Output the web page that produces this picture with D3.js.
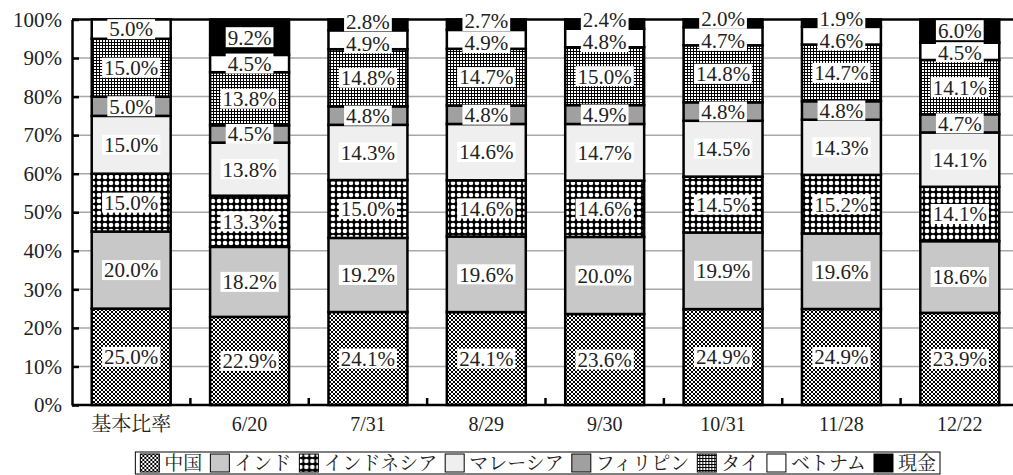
<!DOCTYPE html>
<html>
<head>
<meta charset="utf-8">
<script src="https://cdn.jsdelivr.net/npm/d3@7"></script>
<style>
  body { margin: 0; background: #fff; }
  svg { display: block; }
  text { font-family: "Liberation Serif", "Noto Serif CJK JP", "Noto Sans CJK JP", serif; fill: #222; }
</style>
</head>
<body>
<div id="chart"></div>
<script>
// categories and series
var categories = ["基本比率", "6/20", "7/31", "8/29", "9/30", "10/31", "11/28", "12/22"];
var seriesNames = ["中国", "インド", "インドネシア", "マレーシア", "フィリピン", "タイ", "ベトナム", "現金"];

var china       = [25.0, 22.9, 24.1, 24.1, 23.6, 24.9, 24.9, 23.9];
var india       = [20.0, 18.2, 19.2, 19.6, 20.0, 19.9, 19.6, 18.6];
var indonesia   = [15.0, 13.3, 15.0, 14.6, 14.6, 14.5, 15.2, 14.1];
var malaysia    = [15.0, 13.8, 14.3, 14.6, 14.7, 14.5, 14.3, 14.1];
var philippines = [5.0, 4.5, 4.8, 4.8, 4.9, 4.8, 4.8, 4.7];
var thailand    = [15.0, 13.8, 14.8, 14.7, 15.0, 14.8, 14.7, 14.1];
var vietnam     = [5.0, 4.5, 4.9, 4.9, 4.8, 4.7, 4.6, 4.5];
var cash        = [0, 9.2, 2.8, 2.7, 2.4, 2.0, 1.9, 6.0];

var yTicks = [0, 0.1, 0.2, 0.3, 0.4, 0.5, 0.6, 0.7, 0.8, 0.9, 1.0];

var seriesValues = [china, india, indonesia, malaysia, philippines, thailand, vietnam, cash];

// svg area
var svgWidth = 1013;
var svgHeight = 475;

var plot = { left: 72, right: 1019, top: 19.5, bottom: 405 };

var svg = d3.select("#chart")
  .append("svg")
  .attr("width", svgWidth)
  .attr("height", svgHeight);

// patterns
var defs = svg.append("defs");

var pChina = defs.append("pattern").attr("id", "p-china")
  .attr("patternUnits", "userSpaceOnUse").attr("width", 4).attr("height", 4);
pChina.append("rect").attr("width", 4).attr("height", 4).attr("fill", "#fff");
pChina.append("path").attr("d", "M0,0L4,4M4,0L0,4").attr("stroke", "#000").attr("stroke-width", 1);

var pIndo = defs.append("pattern").attr("id", "p-indo")
  .attr("patternUnits", "userSpaceOnUse").attr("width", 6).attr("height", 6);
pIndo.append("rect").attr("width", 6).attr("height", 6).attr("fill", "#000");
pIndo.append("circle").attr("cx", 3).attr("cy", 3).attr("r", 2.3).attr("fill", "#fff");

var pThai = defs.append("pattern").attr("id", "p-thai")
  .attr("patternUnits", "userSpaceOnUse").attr("width", 3).attr("height", 3);
pThai.append("rect").attr("width", 3).attr("height", 3).attr("fill", "#fff");
pThai.append("path").attr("d", "M0.5,0V3M0,0.5H3").attr("stroke", "#000").attr("stroke-width", 1);

var fills = ["url(#p-china)", "#c8c8c8", "url(#p-indo)", "#efefef", "#a0a0a0", "url(#p-thai)", "#ffffff", "#000000"];

// table for stacking
var table = categories.map(function(c, i) {
  var row = { cat: c };
  seriesNames.forEach(function(s, j) { row[s] = seriesValues[j][i]; });
  return row;
});

var stack = d3.stack().keys(seriesNames).offset(d3.stackOffsetExpand);
var stacked = stack(table);

// scales
var x = d3.scaleBand()
  .domain(categories)
  .range([plot.left, plot.right])
  .paddingInner(0.333)
  .paddingOuter(0.1667);

var y = d3.scaleLinear()
  .domain([0, 1])
  .range([plot.bottom, plot.top]);

// gridlines (100% line is the plot border, drawn black)
svg.append("g")
  .selectAll("line")
  .data(yTicks.slice(1))
  .enter()
  .append("line")
  .attr("x1", plot.left)
  .attr("x2", svgWidth)
  .attr("y1", d => y(d))
  .attr("y2", d => y(d))
  .attr("stroke", d => d === 1 ? "#000" : "#a8a8a8")
  .attr("stroke-width", d => d === 1 ? 2.5 : 1.5);

// bars
var layers = svg.append("g")
  .selectAll("g")
  .data(stacked)
  .enter()
  .append("g")
  .attr("fill", (d, i) => fills[i]);

layers.selectAll("rect")
  .data(d => d)
  .enter()
  .append("rect")
  .attr("x", d => x(d.data.cat))
  .attr("width", x.bandwidth())
  .attr("y", d => y(d[1]))
  .attr("height", d => y(d[0]) - y(d[1]))
  .attr("stroke", "#000")
  .attr("stroke-width", 2.5);

// value labels: centre of each segment, spread apart when too close
var boxH = 20;
var minGap = 22;
var labelGroup = svg.append("g");
categories.forEach(function(c, i) {
  var labels = [];
  stacked.forEach(function(layer, j) {
    var v = seriesValues[j][i];
    if (v <= 0) return;
    var d = layer[i];
    labels.push({ v: v, cx: x(c) + x.bandwidth() / 2, cy: (y(d[0]) + y(d[1])) / 2 });
  });
  // labels run bottom to top; check from the top down
  for (var k = labels.length - 1; k > 0; k--) {
    var upper = labels[k], lower = labels[k - 1];
    var dist = lower.cy - upper.cy;
    if (dist < minGap) {
      var shift = (minGap - dist) / 2;
      upper.cy -= shift;
      lower.cy += shift;
    }
  }
  labels.forEach(function(l) {
    var g = labelGroup.append("g");
    var bg = g.append("rect").attr("fill", "#fff");
    var t = g.append("text")
      .attr("x", l.cx)
      .attr("y", l.cy)
      .attr("dy", "0.35em")
      .attr("text-anchor", "middle")
      .attr("font-size", 21)
      .text(l.v.toFixed(1) + "%");
    var w = t.node().getComputedTextLength();
    bg.attr("x", l.cx - w / 2 - 2)
      .attr("y", l.cy - boxH / 2)
      .attr("width", w + 4)
      .attr("height", boxH);
  });
});

// y axis
var leftAxis = d3.axisLeft(y)
  .tickValues(yTicks)
  .tickFormat(d3.format(".0%"))
  .tickSizeInner(-7)
  .tickSizeOuter(0)
  .tickPadding(10);

var yAxis = svg.append("g")
  .attr("transform", `translate(${plot.left}, 0)`)
  .call(leftAxis);
yAxis.select(".domain").attr("stroke", "#000").attr("stroke-width", 2.5);
yAxis.selectAll(".tick line").attr("stroke", "#000").attr("stroke-width", 2.5);
yAxis.selectAll(".tick text")
  .attr("font-size", 21)
  .attr("font-family", "Liberation Serif, serif")
  .attr("fill", "#222");

// x axis
svg.append("line")
  .attr("x1", plot.left)
  .attr("x2", svgWidth)
  .attr("y1", plot.bottom)
  .attr("y2", plot.bottom)
  .attr("stroke", "#000")
  .attr("stroke-width", 2.5);

var gap = x.step() - x.bandwidth();
svg.append("g")
  .selectAll("line")
  .data(categories.slice(0, categories.length - 1))
  .enter()
  .append("line")
  .attr("x1", d => x(d) + x.bandwidth() + gap / 2)
  .attr("x2", d => x(d) + x.bandwidth() + gap / 2)
  .attr("y1", plot.bottom)
  .attr("y2", plot.bottom - 7)
  .attr("stroke", "#000")
  .attr("stroke-width", 2.5);

svg.append("g")
  .selectAll("text")
  .data(categories)
  .enter()
  .append("text")
  .attr("x", d => x(d) + x.bandwidth() / 2)
  .attr("y", 431)
  .attr("text-anchor", "middle")
  .attr("font-size", 20)
  .text(d => d);

// legend
var legend = svg.append("g");
var legendBox = legend.append("rect")
  .attr("fill", "#fff")
  .attr("stroke", "#000")
  .attr("stroke-width", 1);

var lx = 5;
seriesNames.forEach(function(s, i) {
  legend.append("rect")
    .attr("x", lx)
    .attr("y", 2)
    .attr("width", 19)
    .attr("height", 18)
    .attr("fill", fills[i])
    .attr("stroke", "#000")
    .attr("stroke-width", 1);
  var t = legend.append("text")
    .attr("x", lx + 24)
    .attr("y", 18)
    .attr("font-size", 19)
    .attr("font-family", "Noto Serif CJK JP, Noto Sans CJK JP, sans-serif")
    .text(s);
  lx += 24 + t.node().getComputedTextLength() + 8;
});
legendBox.attr("x", 0).attr("y", 0).attr("width", lx - 4).attr("height", 22);
legend.attr("transform", `translate(${940 - (lx - 4)}, 452)`);
</script>
</body>
</html>
